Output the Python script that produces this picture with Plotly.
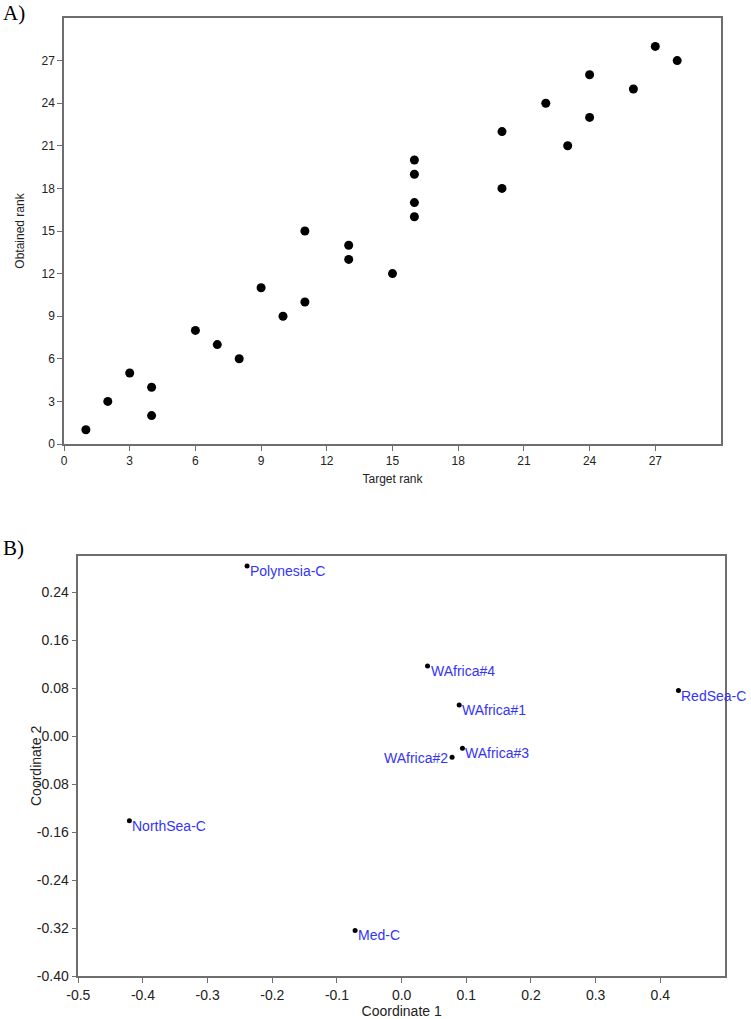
import plotly.graph_objects as go

# Panel A data
target_rank = [1, 2, 3, 4, 4, 6, 7, 8, 9, 10, 11, 11, 13, 13, 15, 16, 16, 16, 16,
               20, 20, 22, 23, 24, 24, 26, 27, 28]
obtained_rank = [1, 3, 5, 4, 2, 8, 7, 6, 11, 9, 10, 15, 14, 13, 12, 20, 19, 17, 16,
                 22, 18, 24, 21, 26, 23, 25, 28, 27]
rank_ticks = [0, 3, 6, 9, 12, 15, 18, 21, 24, 27]

# Panel B data
site_names = ["Polynesia-C", "WAfrica#4", "RedSea-C", "WAfrica#1", "WAfrica#3",
              "WAfrica#2", "NorthSea-C", "Med-C"]
coord1 = [-0.239, 0.040, 0.428, 0.089, 0.094, 0.078, -0.421, -0.072]
coord2 = [0.284, 0.117, 0.076, 0.052, -0.020, -0.035, -0.141, -0.324]
label_side = ["right", "right", "right", "right", "right", "left", "right", "right"]
c1_ticks = [-0.5, -0.4, -0.3, -0.2, -0.1, 0.0, 0.1, 0.2, 0.3, 0.4]
c1_ticktext = ["-0.5", "-0.4", "-0.3", "-0.2", "-0.1", "0.0", "0.1", "0.2", "0.3", "0.4"]
c2_ticks = [-0.40, -0.32, -0.24, -0.16, -0.08, 0.00, 0.08, 0.16, 0.24]
c2_ticktext = ["-0.40", "-0.32", "-0.24", "-0.16", "-0.08", "0.00", "0.08", "0.16", "0.24"]

W, H = 751, 1019
AX = "#6e6e6e"
TXT = "#222222"
FONT = "Liberation Sans, Arial, Helvetica, sans-serif"
BLUE = "#3434f5"

fig = go.Figure()
fig.add_trace(go.Scatter(x=target_rank, y=obtained_rank, mode="markers",
                         marker=dict(color="black", size=9),
                         xaxis="x", yaxis="y", showlegend=False, cliponaxis=False))
fig.add_trace(go.Scatter(x=coord1, y=coord2, mode="markers",
                         marker=dict(color="black", size=5),
                         xaxis="x2", yaxis="y2", showlegend=False, cliponaxis=False))

for name, cx, cy, side in zip(site_names, coord1, coord2, label_side):
    if side == "right":
        fig.add_annotation(x=cx, y=cy, xref="x2", yref="y2", text=name, showarrow=False,
                           xanchor="left", yanchor="middle", xshift=1, yshift=-5,
                           font=dict(family=FONT, size=14, color=BLUE))
    else:
        fig.add_annotation(x=cx, y=cy, xref="x2", yref="y2", text=name, showarrow=False,
                           xanchor="right", yanchor="middle", xshift=-2, yshift=-1,
                           font=dict(family=FONT, size=14, color=BLUE))

def px_x(p):
    return p / W

def px_y(p):
    return 1 - p / H

axis_common = dict(showline=True, linecolor=AX, linewidth=1.5, mirror=True,
                   ticks="outside", ticklen=5, tickcolor=AX, tickwidth=1.2,
                   showgrid=False, zeroline=False, automargin=False)

fig.update_layout(
    width=W, height=H,
    margin=dict(l=0, r=0, t=0, b=0),
    paper_bgcolor="white", plot_bgcolor="white",
    xaxis=dict(domain=[px_x(64), px_x(721)], range=[0, 30], anchor="y",
               tickvals=rank_ticks, tickfont=dict(family=FONT, size=12, color=TXT),
               title=dict(text="Target rank", font=dict(family=FONT, size=12, color=TXT), standoff=7),
               **axis_common),
    yaxis=dict(domain=[px_y(444), px_y(18)], range=[0, 30], anchor="x",
               tickvals=rank_ticks, tickfont=dict(family=FONT, size=12, color=TXT),
               title=dict(text="Obtained rank", font=dict(family=FONT, size=12, color=TXT), standoff=14),
               **axis_common),
    xaxis2=dict(domain=[px_x(78.3), px_x(725)], range=[-0.5, 0.5], anchor="y2",
                tickvals=c1_ticks, ticktext=c1_ticktext,
                tickfont=dict(family=FONT, size=14, color=TXT),
                title=dict(text="Coordinate 1", font=dict(family=FONT, size=14, color=TXT), standoff=2),
                **axis_common),
    yaxis2=dict(domain=[px_y(976), px_y(556.3)], range=[-0.4, 0.3], anchor="x2",
                tickvals=c2_ticks, ticktext=c2_ticktext,
                tickfont=dict(family=FONT, size=14, color=TXT),
                **axis_common),
    annotations=list(fig.layout.annotations) + [
        dict(text="Coordinate 2", x=px_x(36), y=px_y(766), xref="paper", yref="paper",
             xanchor="center", yanchor="middle", showarrow=False, textangle=-90,
             font=dict(family=FONT, size=14, color=TXT)),
        dict(text="A)", x=px_x(1), y=px_y(13), xref="paper", yref="paper",
             xanchor="left", yanchor="middle", showarrow=False,
             font=dict(family="Liberation Serif, Times New Roman, serif", size=21, color="black")),
        dict(text="B)", x=px_x(1), y=px_y(548), xref="paper", yref="paper",
             xanchor="left", yanchor="middle", showarrow=False,
             font=dict(family="Liberation Serif, Times New Roman, serif", size=21, color="black")),
    ],
)

fig.write_html("out.html", config={"displayModeBar": False},
               post_script="document.body.style.margin='0';document.body.style.overflow='hidden';")
